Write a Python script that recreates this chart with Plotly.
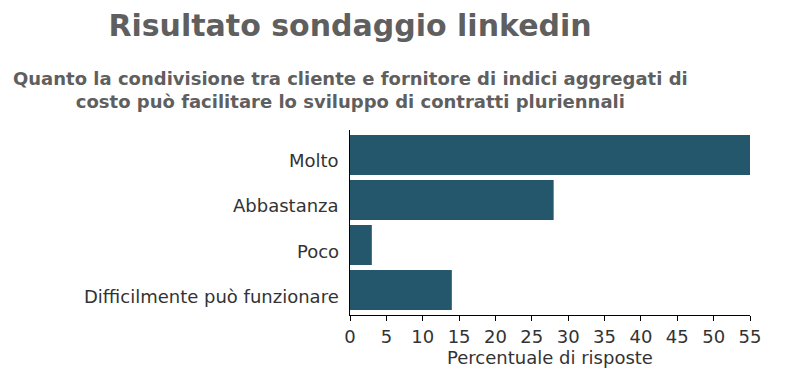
import plotly.graph_objects as go

categories = ["Molto", "Abbastanza", "Poco", "Difficilmente può funzionare"]
values = [55, 28, 3, 14]
x_ticks = [0, 5, 10, 15, 20, 25, 30, 35, 40, 45, 50, 55]

title_text = "Risultato sondaggio linkedin"
subtitle_text = "Quanto la condivisione tra cliente e fornitore di indici aggregati di<br>costo può facilitare lo sviluppo di contratti pluriennali"

fig = go.Figure(go.Bar(
    x=values, y=categories, orientation="h",
    marker=dict(color="#24566c", line=dict(width=0)),
))

annotations = [dict(text="<b>" + subtitle_text + "</b>", xref="paper", yref="paper",
                    x=0, y=1 + (130 - 90) / 185, xanchor="center", yanchor="middle",
                    showarrow=False, align="center",
                    font=dict(size=18, color="#5f5f5f", family="DejaVu Sans"))]
for c in categories:
    annotations.append(dict(text=c, xref="x", yref="y", x=0, y=c, xanchor="right",
                            yanchor="middle", xshift=-9, yshift=-6, showarrow=False,
                            font=dict(size=18, color="#333333", family="DejaVu Sans")))

fig.update_layout(
    width=791, height=374,
    margin=dict(l=350, r=41, t=130, b=59),
    paper_bgcolor="white", plot_bgcolor="white",
    font=dict(family="DejaVu Sans", color="#333333", size=16),
    bargap=0.111,
    showlegend=False,
    title=dict(text="<b>" + title_text + "</b>", x=350/791, xanchor="center",
               y=1 - 25/374, yanchor="middle",
               font=dict(size=30, color="#5f5f5f", family="DejaVu Sans")),
    annotations=annotations,
)
fig.update_xaxes(range=[0, 55], tickvals=x_ticks, showline=True, linecolor="black", linewidth=1,
                 ticks="outside", ticklen=5, tickcolor="black", showgrid=False, zeroline=False,
                 tickfont=dict(size=18, color="#333333"),
                 title=dict(text="Percentuale di risposte", standoff=1,
                            font=dict(size=18, color="#333333")), fixedrange=True)
fig.update_yaxes(range=[3.555, -0.555], showline=True, linecolor="black", linewidth=1,
                 ticks="", showgrid=False, showticklabels=False)

fig.write_html("out.html")
